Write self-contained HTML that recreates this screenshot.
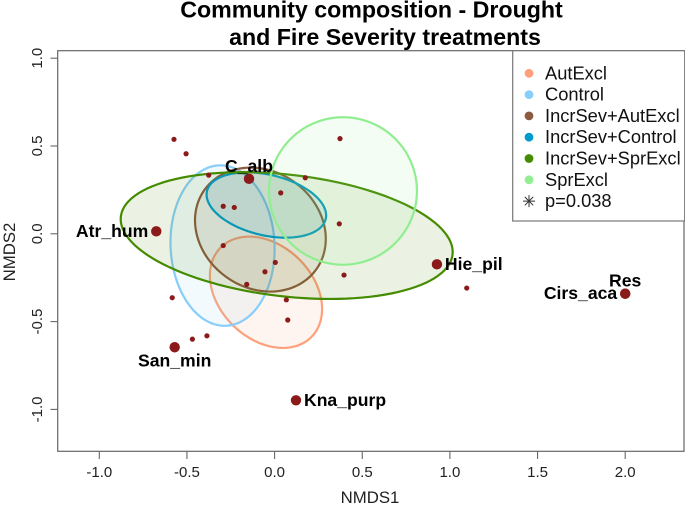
<!DOCTYPE html>
<html lang="en">
<head>
<meta charset="utf-8">
<title>Community composition NMDS</title>
<style>
html,body{margin:0;padding:0;background:#fff;}
body{width:685px;height:506px;overflow:hidden;}
svg{display:block;font-family:"Liberation Sans",Arial,sans-serif;}
</style>
</head>
<body>
<svg id="chart" xmlns="http://www.w3.org/2000/svg" width="685" height="506" viewBox="0 0 685 506">
  <rect x="0" y="0" width="685" height="506" fill="#fff"/>
  <text x="371.5" y="17.5" text-anchor="middle" font-size="23.2" font-weight="bold" fill="#000">Community composition - Drought</text>
  <text x="385" y="45" text-anchor="middle" font-size="23.2" font-weight="bold" fill="#000">and Fire Severity treatments</text>
  <text x="370" y="503" text-anchor="middle" font-size="16.8" fill="#222">NMDS1</text>
  <text transform="translate(15,252) rotate(-90)" text-anchor="middle" font-size="16.8" fill="#222">NMDS2</text>
  <g id="ellipses"></g>
  <g id="points"></g>
  <g id="species"></g>
  <rect x="57.7" y="50.7" width="626.3" height="400.6" fill="none" stroke="#666" stroke-width="1.2"/>
  <g id="axes"></g>
  <g id="legend">
    <rect x="512.7" y="50.7" width="172" height="170.3" fill="#fff" stroke="#777" stroke-width="1.2"/>
  </g>
</svg>
<script>
var xTicks = [-1.0, -0.5, 0.0, 0.5, 1.0, 1.5, 2.0];
var yTicks = [-1.0, -0.5, 0.0, 0.5, 1.0];

var groupNames = ["AutExcl", "Control", "IncrSev+AutExcl", "IncrSev+Control", "IncrSev+SprExcl", "SprExcl"];
var groupCenterX = [-0.049, -0.297, -0.081, -0.047, 0.069, 0.390];
var groupCenterY = [-0.333, -0.067, 0.024, 0.164, -0.010, 0.244];
var groupHalfX = [0.320, 0.297, 0.373, 0.341, 0.947, 0.422];
var groupHalfY = [0.317, 0.457, 0.353, 0.186, 0.361, 0.420];
var groupCorr = [-0.30, -0.04, -0.15, -0.32, -0.26, 0.00];
var groupColors = ["#FFA07A", "#87CEFA", "#8B5A41", "#009ACD", "#458B00", "#90EE90"];

var siteX = [-0.574, -0.505, -0.376, 0.175, 0.373, 0.035, -0.293, -0.230, 0.369, -0.293, 0.004, -0.055, -0.159, 0.396, 0.067, 0.075, -0.584, -0.469, -0.386, 1.096];
var siteY = [0.538, 0.456, 0.334, 0.319, 0.542, 0.233, 0.157, 0.150, 0.057, -0.067, -0.163, -0.216, -0.288, -0.235, -0.376, -0.491, -0.364, -0.600, -0.581, -0.309];

var speciesNames = ["C_alb", "Atr_hum", "San_min", "Kna_purp", "Hie_pil", "Cirs_aca", "Res"];
var speciesX = [-0.146, -0.675, -0.570, 0.122, 0.926, 2.000, 2.000];
var speciesY = [0.313, 0.014, -0.646, -0.948, -0.174, -0.341, -0.341];
var speciesSide = ["above", "left", "below", "right", "right", "left", "above"];

var legendNote = "p=0.038";

var NS = "http://www.w3.org/2000/svg";
function sx(v) { return 274.6 + 175.3 * v; }
function sy(v) { return 233.8 - 175.6 * v; }
function make(tag, parent) {
  var el = document.createElementNS(NS, tag);
  parent.appendChild(el);
  return el;
}
function slug(s) { return s.toLowerCase().replace(/[^a-z0-9]+/g, "-"); }

var axes = document.getElementById("axes");
xTicks.forEach(function (t) {
  var tick = make("line", axes);
  
  
  tick.setAttribute("x1", sx(t)); tick.setAttribute("x2", sx(t));
  tick.setAttribute("y1", 451.3); tick.setAttribute("y2", 459);
  tick.setAttribute("stroke", "#666"); tick.setAttribute("stroke-width", "1.1");
  var lab = make("text", axes);
  
  
  lab.setAttribute("x", sx(t)); lab.setAttribute("y", 477);
  lab.setAttribute("text-anchor", "middle");
  lab.setAttribute("font-size", "15");
  lab.setAttribute("fill", "#222");
  lab.textContent = t.toFixed(1);
});
yTicks.forEach(function (t) {
  var tick = make("line", axes);
  
  
  tick.setAttribute("y1", sy(t)); tick.setAttribute("y2", sy(t));
  tick.setAttribute("x1", 50.5); tick.setAttribute("x2", 57.7);
  tick.setAttribute("stroke", "#666"); tick.setAttribute("stroke-width", "1.1");
  var lab = make("text", axes);
  
  
  lab.setAttribute("transform", "translate(42," + sy(t) + ") rotate(-90)");
  lab.setAttribute("text-anchor", "middle");
  lab.setAttribute("font-size", "15");
  lab.setAttribute("fill", "#222");
  lab.textContent = t.toFixed(1);
});

var ellipses = document.getElementById("ellipses");
groupNames.forEach(function (name, i) {
  var phase = Math.acos(groupCorr[i]);
  var d = "";
  for (var k = 0; k < 120; k++) {
    var a = k / 120 * 2 * Math.PI;
    var px = sx(groupCenterX[i] + groupHalfX[i] * Math.cos(a));
    var py = sy(groupCenterY[i] + groupHalfY[i] * Math.cos(a + phase));
    d += (k ? "L" : "M") + px.toFixed(2) + " " + py.toFixed(2);
  }
  var path = make("path", ellipses);
  
  
  path.setAttribute("d", d + "Z");
  path.setAttribute("fill", groupColors[i]);
  path.setAttribute("fill-opacity", "0.11");
  path.setAttribute("stroke", groupColors[i]);
  path.setAttribute("stroke-width", "2.2");
});

var points = document.getElementById("points");
siteX.forEach(function (x, i) {
  var c = make("circle", points);
  
  
  c.setAttribute("cx", sx(x));
  c.setAttribute("cy", sy(siteY[i]));
  c.setAttribute("r", "2.6");
  c.setAttribute("fill", "#8B1A1A");
});

var species = document.getElementById("species");
speciesNames.forEach(function (name, i) {
  var px = sx(speciesX[i]), py = sy(speciesY[i]);
  var c = make("circle", species);
  
  
  c.setAttribute("cx", px);
  c.setAttribute("cy", py);
  c.setAttribute("r", "5.2");
  c.setAttribute("fill", "#8B1A1A");
  var side = speciesSide[i];
  var t = make("text", species);
  
  
  var lx = px, ly = py, anchor = "middle";
  if (side === "above") { ly = py - 7; }
  if (side === "below") { ly = py + 19.4; }
  if (side === "left") { lx = px - 8; ly = py + 5.5; anchor = "end"; }
  if (side === "right") { lx = px + 8; ly = py + 5.7; anchor = "start"; }
  t.setAttribute("x", lx);
  t.setAttribute("y", ly);
  t.setAttribute("text-anchor", anchor);
  t.setAttribute("font-size", "17.6");
  t.setAttribute("font-weight", "bold");
  t.setAttribute("fill", "#000");
  t.textContent = name;
});

var legend = document.getElementById("legend");
groupNames.forEach(function (name, i) {
  var rowY = 73.3 + i * 21.3;
  var dot = make("circle", legend);
  
  
  dot.setAttribute("cx", 529);
  dot.setAttribute("cy", rowY);
  dot.setAttribute("r", "4.4");
  dot.setAttribute("fill", groupColors[i]);
  var t = make("text", legend);
  
  
  t.setAttribute("x", 545);
  t.setAttribute("y", rowY + 6);
  t.setAttribute("font-size", "18.3");
  t.setAttribute("fill", "#111");
  t.textContent = name;
});
var noteY = 73.3 + 6 * 21.3;
var star = make("path", legend);


star.setAttribute("d", "M529 " + (noteY - 6) + "V" + (noteY + 6) + "M523 " + noteY + "H535M524.8 " + (noteY - 4.2) + "L533.2 " + (noteY + 4.2) + "M533.2 " + (noteY - 4.2) + "L524.8 " + (noteY + 4.2));
star.setAttribute("stroke", "#333");
star.setAttribute("stroke-width", "1");
star.setAttribute("fill", "none");
var note = make("text", legend);


note.setAttribute("x", 545);
note.setAttribute("y", noteY + 6);
note.setAttribute("font-size", "18.3");
note.setAttribute("fill", "#111");
note.textContent = legendNote;
</script>
</body>
</html>
